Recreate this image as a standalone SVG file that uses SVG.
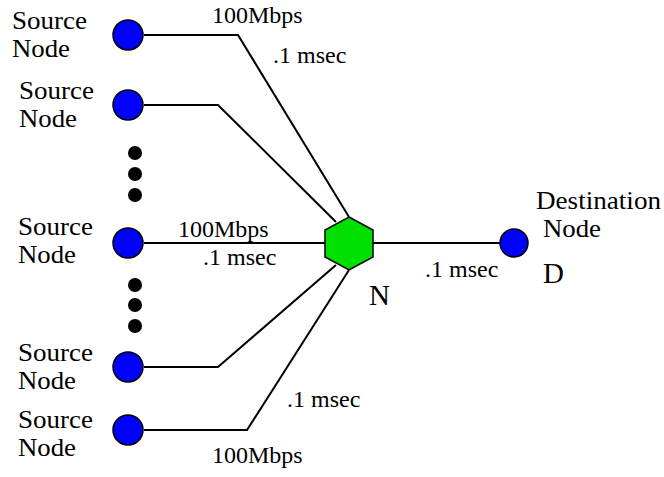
<svg xmlns="http://www.w3.org/2000/svg" width="664" height="477" viewBox="0 0 664 477">
<style>
text{font-family:"Liberation Serif","DejaVu Serif",serif;fill:#000}
.lbl{font-size:25px}
.lnk{font-size:24px}
.big{font-size:29px}
.src{fill:#0000ff;stroke:#000;stroke-width:1.5}
.dot{fill:#000}
.edge{fill:none;stroke:#000;stroke-width:2}
</style>
<rect width="664" height="477" fill="#fff"/>
<g id="connectors">
<polyline class="edge" points="144,35 238,35 349,217"/>
<polyline class="edge" points="144,105 218,105 336,222"/>
<polyline class="edge" points="144,243 326,243"/>
<polyline class="edge" points="144,367 218,367 336,265"/>
<polyline class="edge" points="144,430 247,430 349,270"/>
<polyline class="edge" points="373,243 500,243"/>
</g>
<g id="src1"><circle class="src" cx="128" cy="35" r="15"/><text class="lbl" x="12" y="29" textLength="75" lengthAdjust="spacingAndGlyphs">Source</text><text class="lbl" x="12" y="57" textLength="58" lengthAdjust="spacingAndGlyphs">Node</text></g>
<g id="src2"><circle class="src" cx="128" cy="105" r="15"/><text class="lbl" x="19" y="99" textLength="75" lengthAdjust="spacingAndGlyphs">Source</text><text class="lbl" x="19" y="127" textLength="58" lengthAdjust="spacingAndGlyphs">Node</text></g>
<g id="src3"><circle class="src" cx="128" cy="243" r="15"/><text class="lbl" x="18" y="235" textLength="75" lengthAdjust="spacingAndGlyphs">Source</text><text class="lbl" x="18" y="263" textLength="58" lengthAdjust="spacingAndGlyphs">Node</text></g>
<g id="src4"><circle class="src" cx="128" cy="367" r="15"/><text class="lbl" x="18" y="361" textLength="75" lengthAdjust="spacingAndGlyphs">Source</text><text class="lbl" x="18" y="389" textLength="58" lengthAdjust="spacingAndGlyphs">Node</text></g>
<g id="src5"><circle class="src" cx="128" cy="430" r="15"/><text class="lbl" x="18" y="428" textLength="75" lengthAdjust="spacingAndGlyphs">Source</text><text class="lbl" x="18" y="456" textLength="58" lengthAdjust="spacingAndGlyphs">Node</text></g>
<g id="dots-upper"><circle class="dot" cx="135" cy="153" r="7"/><circle class="dot" cx="135" cy="174" r="7"/><circle class="dot" cx="135" cy="195" r="7"/></g>
<g id="dots-lower"><circle class="dot" cx="135" cy="285" r="7"/><circle class="dot" cx="135" cy="305" r="7"/><circle class="dot" cx="135" cy="326" r="7"/></g>
<g id="N"><polygon points="349,217 373,230 373,257 349,270 325,257 325,230" fill="#00e000" stroke="#000" stroke-width="1.5"/><text class="big" x="369" y="305">N</text></g>
<g id="D"><circle class="src" cx="514" cy="243" r="14"/><text class="lbl" x="536" y="209" textLength="125" lengthAdjust="spacingAndGlyphs">Destination</text><text class="lbl" x="543" y="237" textLength="58" lengthAdjust="spacingAndGlyphs">Node</text><text class="big" x="543" y="283">D</text></g>
<g id="labels">
<text class="lnk" x="212" y="23">100Mbps</text>
<text class="lnk" x="273" y="63">.1 msec</text>
<text class="lnk" x="178" y="237">100Mbps</text>
<text class="lnk" x="203" y="265">.1 msec</text>
<text class="lnk" x="425" y="277">.1 msec</text>
<text class="lnk" x="287" y="407">.1 msec</text>
<text class="lnk" x="212" y="463">100Mbps</text>
</g>
</svg>
